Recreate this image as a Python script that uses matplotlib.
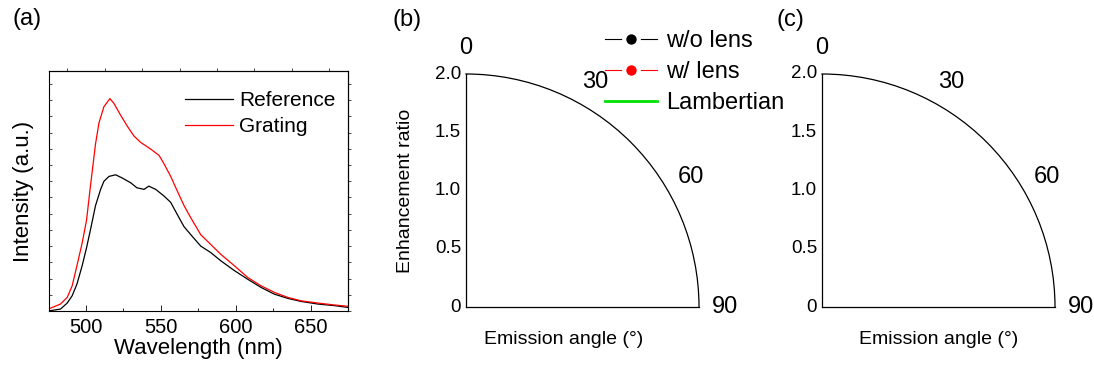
import matplotlib
matplotlib.use("Agg")
import matplotlib.pyplot as plt
import numpy as np

plt.rcParams['font.family'] = ['Liberation Sans', 'DejaVu Sans']

# ── PL spectra, panel (a) ──
wavelength = [475, 483, 487.5, 490.8, 494, 497.5, 500.4, 503, 506.4, 508.7, 512,
              516, 518.7, 523, 527.6, 532, 536.5, 543, 548.8, 552, 556.6, 561,
              565.5, 570, 576.7, 583.4, 590, 599, 608, 617, 625.8, 634.7, 643.6,
              654.8, 666, 675]
grating = [0.12, 0.43, 0.84, 1.55, 2.8, 4.2, 5.6, 7.7, 10.3, 11.6, 12.6,
           13.1, 12.8, 12.1, 11.4, 10.8, 10.4, 10.0, 9.6, 9.1, 8.3, 7.4,
           6.5, 5.75, 4.7, 4.1, 3.5, 2.8, 2.07, 1.55, 1.15, 0.84, 0.63,
           0.49, 0.37, 0.29]
wavelength_ref = [475, 483, 487.5, 490.8, 494, 497.5, 500.4, 503, 506.4, 509.8, 512,
                  515.4, 519.8, 524.3, 530, 534, 538.8, 542, 546.6, 552, 556.6, 561,
                  565.5, 571, 576.7, 583.4, 590, 599, 608, 617, 625.8, 634.7, 643.6,
                  654.8, 666, 675]
reference = [0.0, 0.12, 0.49, 0.94, 1.66, 2.8, 3.9, 5.0, 6.5, 7.5, 8.0,
             8.3, 8.4, 8.2, 7.9, 7.6, 7.5, 7.7, 7.5, 7.1, 6.7, 5.95,
             5.2, 4.6, 4.0, 3.6, 3.1, 2.5, 1.96, 1.45, 1.04, 0.78, 0.59,
             0.43, 0.33, 0.22]

# ── angular enhancement, panels (b) and (c) ──
angle_deg = []
ratio_wo_lens = []
ratio_w_lens = []
ratio_lambertian = []
r_ticks = [0, 0.5, 1.0, 1.5, 2.0]
r_ticklabels = ['0', '0.5', '1.0', '1.5', '2.0']
theta_ticks = [0, 30, 60, 90]

W, H = 1094, 371
fig = plt.figure(figsize=(W / 100, H / 100), dpi=100)

def box(x0, y0, x1, y1):
    # pixel box (top-left origin) -> figure fraction rect
    return [x0 / W, 1 - y1 / H, (x1 - x0) / W, (y1 - y0) / H]

# (a) spectra
ax = fig.add_axes(box(48.5, 71, 348, 311))
ax.plot(wavelength_ref, reference, color='black', lw=0.9, label='Reference')
ax.plot(wavelength, grating, color='#ff0000', lw=0.9, label='Grating')
ax.set_xlim(475, 675)
ax.set_ylim(0, 14.8)
ax.set_xticks([500, 550, 600, 650])
ax.set_xticks([525, 575, 625], minor=True)
ax.set_yticks(np.arange(0, 15))
ax.set_yticklabels([])
ax.tick_params(axis='x', which='major', direction='in', length=4, width=0.6,
               labelsize=14.5, pad=5, top=False)
ax.tick_params(axis='x', which='minor', direction='in', length=2.5, width=0.6, top=False)
ax.tick_params(axis='y', direction='in', length=2, width=0.5, right=False)
# outward ticks along top and right edges
sec_x = ax.secondary_xaxis('top')
sec_x.set_xticks([487.5, 512.5, 537.5, 562.5, 587.5, 612.5, 637.5, 662.5])
sec_x.set_xticklabels([])
sec_x.tick_params(direction='out', length=2, width=0.5)
sec_y = ax.secondary_yaxis('right')
sec_y.set_yticks(np.arange(0, 15))
sec_y.set_yticklabels([])
sec_y.tick_params(direction='out', length=2, width=0.5)
for s in list(ax.spines.values()) + list(sec_x.spines.values()) + list(sec_y.spines.values()):
    s.set_linewidth(0.8)
ax.set_xlabel('Wavelength (nm)', fontsize=16, labelpad=1)
ax.set_ylabel('Intensity (a.u.)', fontsize=16)
ax.yaxis.set_label_coords(-0.05, 0.5)
ax.legend(loc='upper left', bbox_to_anchor=(185 / W, 1 - 91 / H),
          bbox_transform=fig.transFigure, frameon=False, fontsize=15,
          handlelength=2.3, handletextpad=0.3, labelspacing=0.34,
          borderpad=0, borderaxespad=0)

# (b), (c) polar quadrants
def quadrant(x0, label_x):
    pax = fig.add_axes(box(x0, 74, x0 + 233, 307), projection='polar')
    pax.set_theta_zero_location('N')
    pax.set_theta_direction(-1)
    pax.set_thetamin(0)
    pax.set_thetamax(90)
    pax.set_rlim(0, 2.0)
    pax.set_rticks(r_ticks)
    pax.set_yticklabels(r_ticklabels)
    pax.set_xticks(np.deg2rad(theta_ticks))
    pax.set_xticklabels([str(t) for t in theta_ticks])
    pax.grid(False)
    pax.tick_params(axis='x', labelsize=17, pad=12, length=0)
    pax.tick_params(axis='y', labelsize=13.5, direction='in', length=3, width=0.6)
    for s in pax.spines.values():
        s.set_linewidth(0.9)
    pax.text(label_x, -0.14, 'Emission angle (°)', transform=pax.transAxes,
             ha='center', va='center', fontsize=14)
    return pax

axb = quadrant(466, 0.42)
axb.plot(angle_deg, ratio_wo_lens, color='black', lw=0.8, marker='o', ms=10.5,
         mfc='black', mec='white', mew=3.0, label='w/o lens')
axb.plot(angle_deg, ratio_w_lens, color='#ff0000', lw=0.8, marker='o', ms=10.5,
         mfc='#ff0000', mec='white', mew=3.0, label='w/ lens')
axb.plot(angle_deg, ratio_lambertian, color='#00e000', lw=2.0, label='Lambertian')
axb.text(-0.26, 0.5, 'Enhancement ratio', transform=axb.transAxes, rotation=90,
         ha='center', va='center', fontsize=14)
axb.legend(loc='upper left', bbox_to_anchor=(605 / W, 1 - 30 / H),
           bbox_transform=fig.transFigure, frameon=False, fontsize=17,
           handlelength=2.2, handletextpad=0.4, labelspacing=0.39,
           borderpad=0, borderaxespad=0, numpoints=1)

axc = quadrant(822, 0.50)

fig.text(12 / W, 1 - 19 / H, '(a)', fontsize=17, va='center', ha='left')
fig.text(392 / W, 1 - 20 / H, '(b)', fontsize=17, va='center', ha='left')
fig.text(776 / W, 1 - 20 / H, '(c)', fontsize=17, va='center', ha='left')

fig.savefig('out.png', dpi=100)
